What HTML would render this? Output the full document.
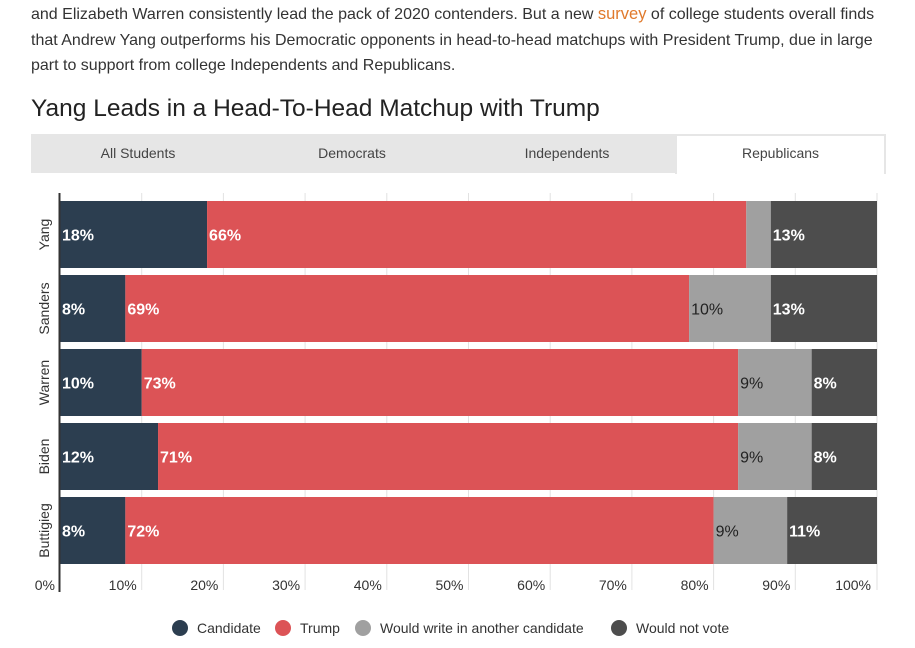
<!DOCTYPE html>
<html><head><meta charset="utf-8"><style>
body{margin:0;width:915px;height:648px;background:#fff;font-family:"Liberation Sans",sans-serif;overflow:hidden;position:relative}
.intro{position:absolute;left:31px;top:2px;width:890px;font-size:16px;line-height:25.5px;color:#333;white-space:nowrap}
.intro a{color:#e0792b;text-decoration:none;font-size:16.5px}
h1{position:absolute;left:31px;top:95px;margin:0;font-weight:normal;font-size:24.5px;color:#222}
.tabs{position:absolute;left:31px;top:134px;width:855px;height:39px;background:#e6e6e6}
.tab{position:absolute;top:0;height:39px;line-height:38px;text-align:center;font-size:14px;color:#444}
.tab.active{background:#fff;border:2px solid #e6e6e6;border-bottom:none;box-sizing:border-box;height:40px;line-height:34px}
</style></head><body>
<div class="intro">and Elizabeth Warren consistently lead the pack of 2020 contenders. But a new <a>survey</a> of college students overall finds<br>that Andrew Yang outperforms his Democratic opponents in head-to-head matchups with President Trump, due in large<br>part to support from college Independents and Republicans.</div>
<h1>Yang Leads in a Head-To-Head Matchup with Trump</h1>
<div class="tabs">
<div class="tab" style="left:0;width:214px">All Students</div>
<div class="tab" style="left:214px;width:214px">Democrats</div>
<div class="tab" style="left:428px;width:216px">Independents</div>
<div class="tab active" style="left:644px;width:211px">Republicans</div>
</div>
<svg id="chart" width="915" height="648" style="position:absolute;left:0;top:0"></svg>
<script>
const categories=["Yang","Sanders","Warren","Biden","Buttigieg"];
const candidate=[18,8,10,12,8];
const trump=[66,69,73,71,72];
const writeIn=[3,10,9,9,9];
const notVote=[13,13,8,8,11];
const ticks=[0,10,20,30,40,50,60,70,80,90,100];
const seriesNames=["Candidate","Trump","Would write in another candidate","Would not vote"];
const colors=["#2c3e50","#dc5356","#a0a0a0","#4d4d4d"];
const labelColors=["#fff","#fff","#222","#fff"];
const svg=document.getElementById('chart');const NS="http://www.w3.org/2000/svg";
const x0=60,x1=877;const xs=v=>x0+(x1-x0)*v/100;
const rowTop=i=>201+i*74, bh=67;
function mk(t,a,p){const e=document.createElementNS(NS,t);for(const k in a)e.setAttribute(k,a[k]);(p||svg).appendChild(e);return e;}
ticks.forEach(t=>{
 const g=mk('line',{x1:xs(t),x2:xs(t),y1:193,y2:590,stroke:'#e2e2e2','stroke-width':1});
 
 
 const tx=mk('text',{x:t===100?xs(t)-6:xs(t)-5,y:590,'font-size':14,fill:'#333','text-anchor':'end'});
 tx.textContent=t+'%';
 
 
});
const series=[candidate,trump,writeIn,notVote];
categories.forEach((c,i)=>{
 let acc=0;const y=rowTop(i);
 series.forEach((s,j)=>{
  const v=s[i];const r=mk('rect',{x:xs(acc),y:y,width:xs(acc+v)-xs(acc),height:bh,fill:colors[j]});
  
  
  if(v>=5){const t=mk('text',{x:xs(acc)+2,y:y+bh/2+6,'font-size':16,'font-weight':j===2?'normal':'bold',fill:labelColors[j]});
   t.textContent=v+'%';
   
   }
  acc+=v;
 });
 const l=mk('text',{x:0,y:0,'font-size':14,fill:'#333','text-anchor':'middle',transform:`translate(49,${y+bh/2}) rotate(-90)`});
 l.textContent=c;
 
 
});
const ax=mk('line',{x1:59.5,x2:59.5,y1:193,y2:592,stroke:'#333','stroke-width':2});


const lx=[180,283,363,619];
seriesNames.forEach((n,j)=>{
 const g=mk('g',{});
 
 
 mk('circle',{cx:lx[j],cy:628,r:8,fill:colors[j]},g);
 const t=mk('text',{x:lx[j]+17,y:633,'font-size':14,fill:'#333'},g);t.textContent=n;
});
</script>
</body></html>
